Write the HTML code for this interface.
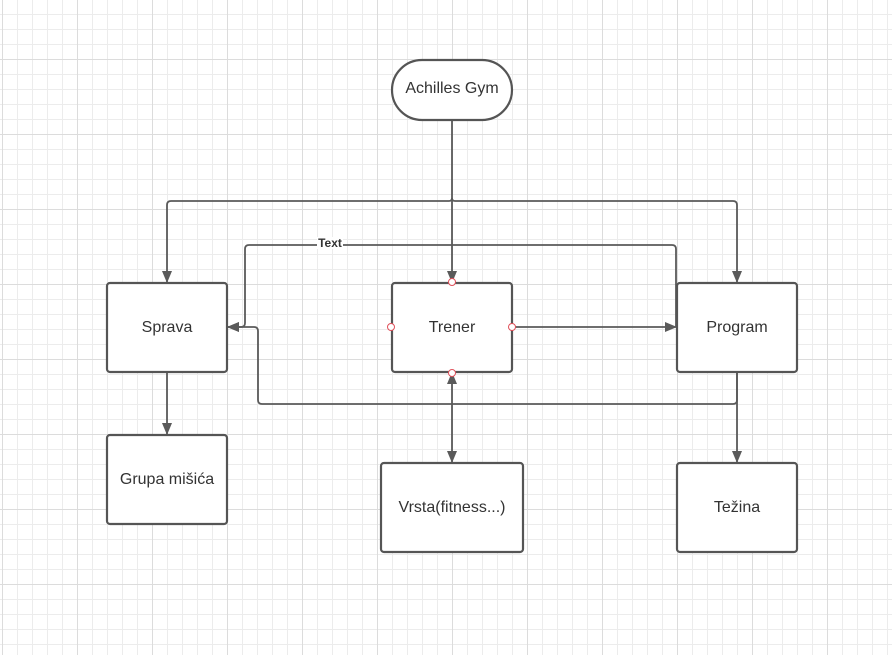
<!DOCTYPE html>
<html><head><meta charset="utf-8"><style>
html,body{margin:0;padding:0;background:#fff;}
svg{display:block;}
text{font-family:"Liberation Sans",sans-serif;fill:#333;}
</style></head><body>
<svg width="892" height="655" viewBox="0 0 892 655" xmlns="http://www.w3.org/2000/svg">
<defs>
<pattern id="minor" x="2" y="-1" width="15" height="15" patternUnits="userSpaceOnUse">
<path d="M0.5 0V15M0 0.5H15" stroke="#ececec" stroke-width="1" fill="none"/>
</pattern>
<pattern id="major" x="2" y="-16" width="75" height="75" patternUnits="userSpaceOnUse">
<path d="M0.5 0V75M0 0.5H75" stroke="#dcdcdc" stroke-width="1" fill="none"/>
</pattern>
<marker id="ar" markerWidth="12" markerHeight="12" refX="11" refY="6" orient="auto" markerUnits="userSpaceOnUse" viewBox="0 0 12 12">
<path d="M0 1L12 6L0 11Z" fill="#5a5a5a"/>
</marker>
</defs>
<rect width="892" height="655" fill="url(#minor)"/>
<rect width="892" height="655" fill="url(#major)"/>
<g stroke="#5a5a5a" stroke-width="1.8" fill="none">
<path d="M452 120V282" marker-end="url(#ar)"/>
<path d="M452 198Q452 201 449 201H171Q167 201 167 205V282" marker-end="url(#ar)"/>
<path d="M452 198Q452 201 455 201H733Q737 201 737 205V282" marker-end="url(#ar)"/>
<path d="M676 327V249Q676 245 672 245H249Q245 245 245 249V323Q245 327 241 327H228" marker-end="url(#ar)"/>
<path d="M512 327H676" marker-end="url(#ar)"/>
<path d="M737 372V462" marker-end="url(#ar)"/>
<path d="M737 372V400Q737 404 733 404H262Q258 404 258 400V331Q258 327 254 327H228" marker-end="url(#ar)"/>
<path d="M452 404V373" marker-end="url(#ar)"/>
<path d="M452 404V462" marker-end="url(#ar)"/>
<path d="M167 372V434" marker-end="url(#ar)"/>
</g>
<rect x="317" y="237" width="26" height="12" fill="#fff"/>
<text x="330" y="247" font-size="12" font-weight="bold" text-anchor="middle">Text</text>
<g stroke="#555" stroke-width="2.2" fill="#fff">
<rect x="392" y="60" width="120" height="60" rx="30"/>
<rect x="107" y="283" width="120" height="89" rx="3"/>
<rect x="392" y="283" width="120" height="89" rx="3"/>
<rect x="677" y="283" width="120" height="89" rx="3"/>
<rect x="107" y="435" width="120" height="89" rx="3"/>
<rect x="381" y="463" width="142" height="89" rx="3"/>
<rect x="677" y="463" width="120" height="89" rx="3"/>
</g>
<g font-size="16" text-anchor="middle">
<text x="452" y="93">Achilles Gym</text>
<text x="167" y="332">Sprava</text>
<text x="452" y="332">Trener</text>
<text x="737" y="332">Program</text>
<text x="167" y="484">Grupa mišića</text>
<text x="452" y="512">Vrsta(fitness...)</text>
<text x="737" y="512">Težina</text>
</g>
<g stroke="#e0505a" stroke-width="1" fill="#fff">
<circle cx="452" cy="282" r="3.5"/>
<circle cx="391" cy="327" r="3.5"/>
<circle cx="512" cy="327" r="3.5"/>
<circle cx="452" cy="373" r="3.5"/>
</g>
</svg>
</body></html>
